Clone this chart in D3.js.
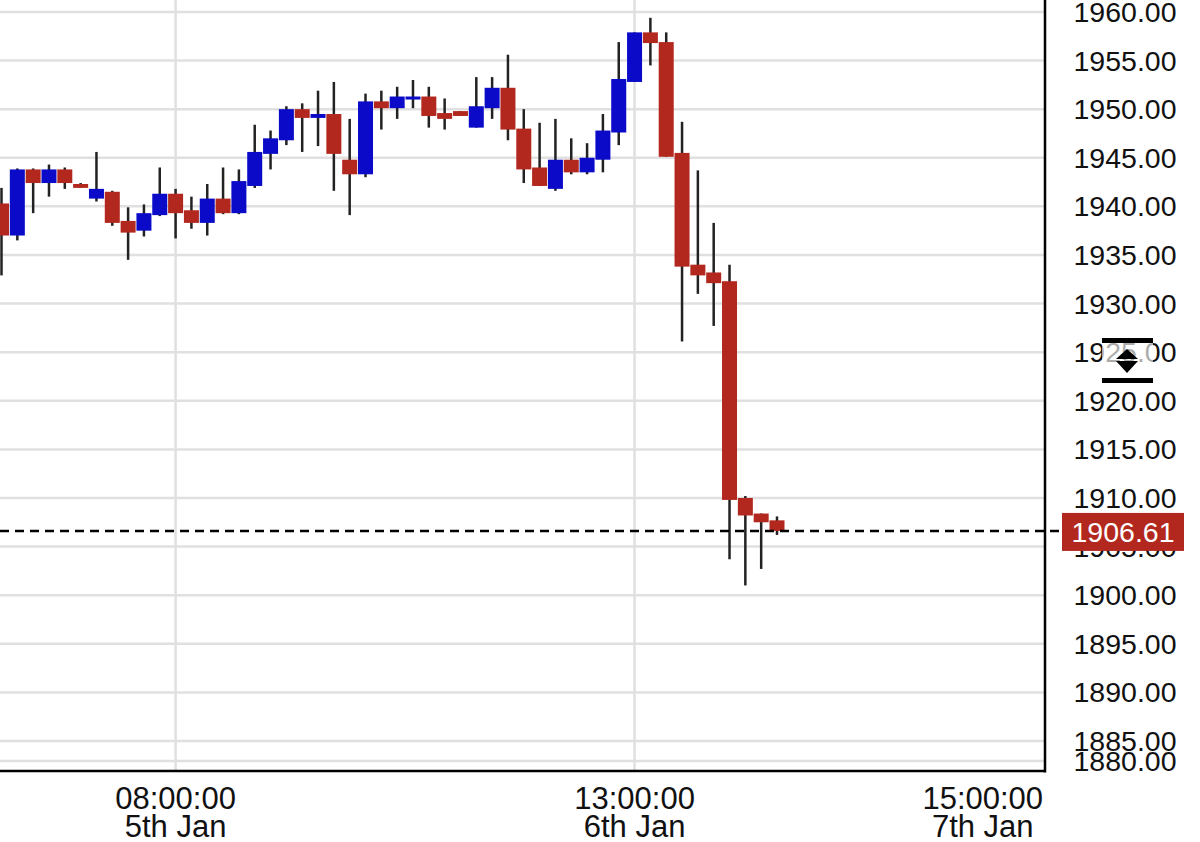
<!DOCTYPE html>
<html>
<head>
<meta charset="utf-8">
<script src="https://cdn.jsdelivr.net/npm/d3@7.9.0/dist/d3.min.js"></script>
<style>
  body { margin: 0; background: #fff; }
  text { font-family: "Liberation Sans", Arial, sans-serif; }
</style>
</head>
<body>
<svg id="chart" width="1200" height="842"></svg>
<script>
// candle values (one per bar, left to right)
const opens  = [1940.3,1937.0,1943.8,1942.4,1943.8,1942.3,1940.8,1941.5,1938.5,1937.5,
                1939.1,1941.3,1939.6,1938.3,1940.8,1939.3,1942.1,1945.4,1946.8,1950.0,
                1949.1,1949.5,1944.8,1943.3,1950.8,1950.1,1951.0,1951.3,1949.6,1949.8,
                1948.1,1950.1,1952.2,1948.0,1944.0,1941.8,1944.8,1943.5,1944.8,1947.6,
                1952.8,1957.9,1956.9,1945.5,1934.0,1933.2,1932.3,1910.0,1908.4,1907.7];
const highs  = [1941.9,1943.9,1943.9,1944.3,1944.0,1942.4,1945.6,1941.6,1939.9,1940.2,
                1944.0,1941.8,1941.0,1942.3,1944.0,1943.8,1948.4,1947.8,1950.3,1950.6,
                1951.9,1952.8,1949.0,1951.6,1951.9,1952.3,1953.0,1952.3,1951.1,1949.8,
                1953.3,1953.3,1955.6,1950.0,1948.6,1949.0,1947.0,1946.5,1949.5,1956.9,
                1957.9,1959.4,1957.9,1948.7,1943.7,1938.3,1934.0,1910.2,1908.4,1908.1];
const lows   = [1932.9,1936.5,1939.3,1941.0,1941.8,1941.9,1940.5,1938.0,1934.5,1936.9,
                1939.0,1936.7,1937.7,1937.0,1939.2,1939.2,1941.9,1943.8,1946.3,1945.6,
                1946.2,1941.6,1939.1,1943.0,1947.9,1949.0,1950.1,1948.1,1947.9,1949.3,
                1948.1,1949.0,1946.8,1942.4,1942.1,1941.6,1943.3,1943.3,1943.5,1946.3,
                1952.8,1954.5,1945.1,1926.1,1931.0,1927.7,1903.7,1901.0,1902.7,1906.2];
const closes = [1937.0,1943.8,1942.4,1943.8,1942.4,1941.9,1941.8,1938.3,1937.3,1939.3,
                1941.3,1939.3,1938.3,1940.8,1939.3,1942.6,1945.6,1947.0,1950.0,1949.1,
                1949.5,1945.4,1943.3,1950.8,1950.1,1951.3,1951.3,1949.3,1949.0,1949.3,
                1950.3,1952.2,1947.9,1943.8,1942.1,1944.8,1943.5,1945.0,1947.8,1953.1,
                1957.9,1956.8,1945.1,1933.8,1932.9,1932.1,1909.8,1908.2,1907.5,1906.61];

// y axis tick values
const priceTicks = d3.range(1960, 1879, -5);
// x axis ticks: bar index, time line, date line
const tickIndex = [11, 40, 62];
const tickTime  = ["08:00:00", "13:00:00", "15:00:00"];
const tickDate  = ["5th Jan", "6th Jan", "7th Jan"];

const lastPrice = 1906.61;

const plotRight = 1045, plotBottom = 771;

const svg = d3.select("#chart");

const x = d3.scaleLinear().domain([0, 49]).range([1.5, 777]);
const y = d3.scaleLinear().domain([1881.81, 1961.23]).range([772, 0]);

const candles = opens.map((o, i) => ({
  i, open: o, high: highs[i], low: lows[i], close: closes[i]
}));

const UP = "#0a0ac8", DOWN = "#b3281e";

// bottom tick is squeezed up against the axis
const tickY = d => Math.min(y(d), 761);

// grid
const grid = svg.append("g");
grid.selectAll("line.h")
  .data(priceTicks)
  .join("line")
  .attr("x1", 0).attr("x2", plotRight)
  .attr("y1", tickY).attr("y2", tickY)
  .attr("stroke", "#e0e0e0").attr("stroke-width", 2.5);

grid.selectAll("line.v")
  .data(tickIndex.filter(i => i < candles.length))
  .join("line")
  .attr("x1", d => x(d)).attr("x2", d => x(d))
  .attr("y1", 0).attr("y2", plotBottom)
  .attr("stroke", "#e0e0e0").attr("stroke-width", 2.5);

// wicks
svg.append("g").selectAll("line")
  .data(candles)
  .join("line")
  .attr("x1", d => x(d.i)).attr("x2", d => x(d.i))
  .attr("y1", d => y(d.high)).attr("y2", d => y(d.low))
  .attr("stroke", "#222").attr("stroke-width", 2.5);

// bodies
const bw = 15;
svg.append("g").selectAll("rect")
  .data(candles)
  .join("rect")
  .attr("x", d => x(d.i) - bw / 2)
  .attr("width", bw)
  .attr("y", d => y(Math.max(d.open, d.close)))
  .attr("height", d => Math.max(3, Math.abs(y(d.open) - y(d.close))))
  .attr("fill", d => d.close >= d.open ? UP : DOWN);

// last price dashed line
svg.append("line")
  .attr("x1", 0).attr("x2", 1062)
  .attr("y1", y(lastPrice)).attr("y2", y(lastPrice))
  .attr("stroke", "#000").attr("stroke-width", 2.5)
  .attr("stroke-dasharray", "9,6");

// axes lines
svg.append("line")
  .attr("x1", plotRight).attr("x2", plotRight)
  .attr("y1", 0).attr("y2", plotBottom + 1.5)
  .attr("stroke", "#000").attr("stroke-width", 2.5);
svg.append("line")
  .attr("x1", 0).attr("x2", plotRight)
  .attr("y1", plotBottom).attr("y2", plotBottom)
  .attr("stroke", "#000").attr("stroke-width", 2.5);

// y labels
svg.append("g").selectAll("text")
  .data(priceTicks)
  .join("text")
  .attr("x", 1125)
  .attr("y", d => tickY(d) + 10)
  .attr("text-anchor", "middle")
  .attr("font-size", 28.5)
  .attr("fill", "#111")
  .text(d => d.toFixed(2));

// x labels
const xl = svg.append("g").selectAll("g")
  .data(tickIndex)
  .join("g")
  .attr("transform", d => `translate(${x(d)},0)`);
xl.append("text")
  .attr("y", 809).attr("text-anchor", "middle")
  .attr("font-size", 31).attr("fill", "#111")
  .text((d, k) => tickTime[k]);
xl.append("text")
  .attr("y", 837).attr("text-anchor", "middle")
  .attr("font-size", 31).attr("fill", "#111")
  .text((d, k) => tickDate[k]);

// last price label
const ly = y(lastPrice);
svg.append("rect")
  .attr("x", 1062).attr("y", ly - 18)
  .attr("width", 122).attr("height", 38)
  .attr("fill", DOWN);
svg.append("text")
  .attr("x", 1123).attr("y", ly + 11)
  .attr("text-anchor", "middle")
  .attr("font-size", 28.5).attr("fill", "#fff")
  .text(lastPrice.toFixed(2));

// axis drag handle overlay
const hx = 1127, hy = 360;
svg.append("rect")
  .attr("x", hx - 25).attr("y", hy - 18)
  .attr("width", 51).attr("height", 38)
  .attr("fill", "#fff").attr("opacity", 0.65);
svg.append("rect")
  .attr("x", hx - 25).attr("y", hy - 22)
  .attr("width", 51).attr("height", 5).attr("fill", "#000");
svg.append("rect")
  .attr("x", hx - 25).attr("y", hy + 18)
  .attr("width", 51).attr("height", 5).attr("fill", "#000");
svg.append("path")
  .attr("d", `M${hx},${hy - 11}L${hx + 11},${hy - 1}L${hx - 11},${hy - 1}Z`)
  .attr("fill", "#000");
svg.append("path")
  .attr("d", `M${hx - 11},${hy + 1}L${hx + 11},${hy + 1}L${hx},${hy + 13}Z`)
  .attr("fill", "#000");
</script>
</body>
</html>
